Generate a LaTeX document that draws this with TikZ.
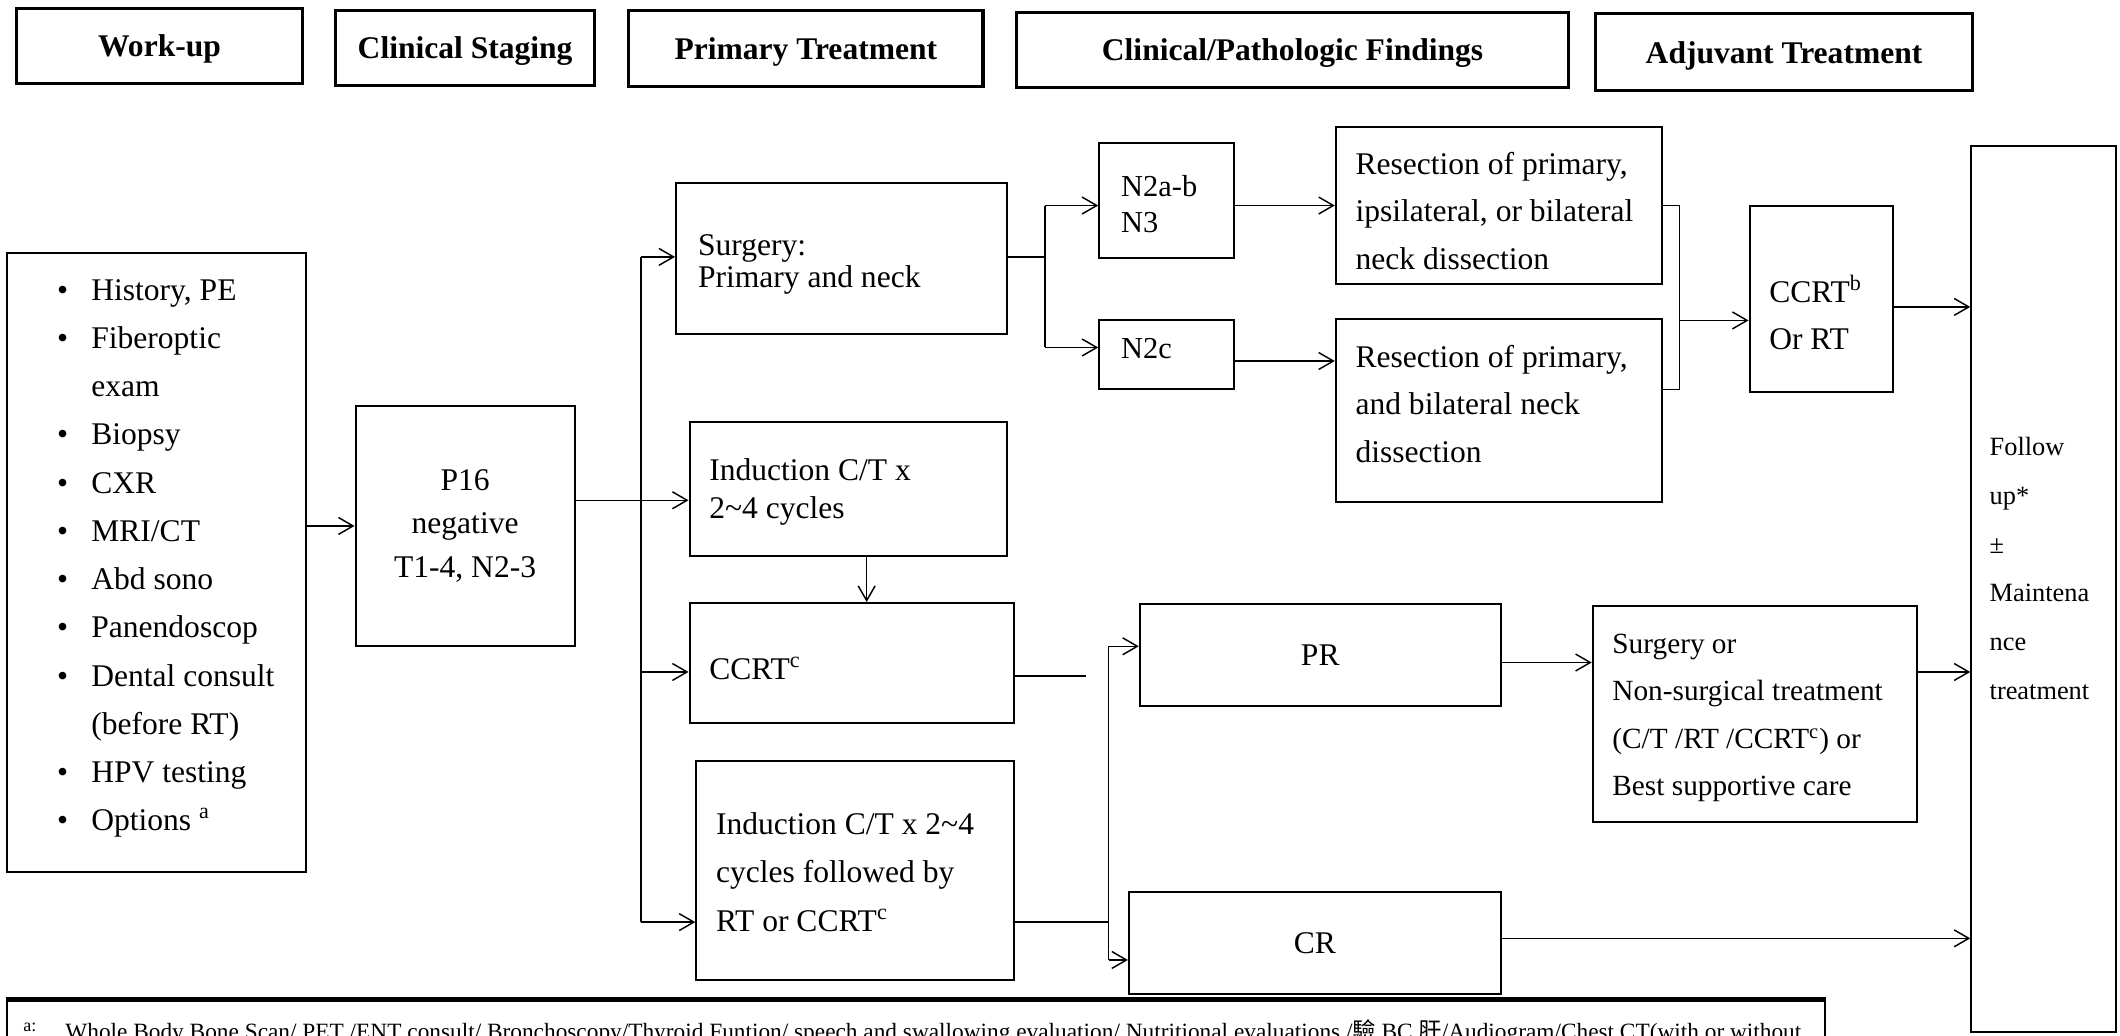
\documentclass[tikz,border=0pt]{standalone}
\usepackage{fontspec}
\setmainfont{Liberation Serif}
\newfontfamily\cjk{Noto Sans CJK TC}
\usetikzlibrary{arrows.meta}
\newcommand\boxnode[6][]{\node[box,#1,minimum width={(#4-#2)*0.6pt},minimum height={(#5-#3)*0.6pt}] (#6) at ({(#2+#4)/2},{(#3+#5)/2})}
\newcommand\bul{\makebox[16.8pt][l]{\hspace{1.6pt}\textbullet}}
\begin{document}
\begin{tikzpicture}[x=0.6pt,y=-0.6pt,
 box/.style={draw, line width=0.9pt, inner sep=0pt},
 hdr/.style={line width=1.4pt, text depth=0pt, font=\fontsize{14}{16}\selectfont\bfseries},
 ctext/.style={align=center, font=\fontsize{14}{19.5}\selectfont},
 txt/.style={align=left, anchor=west, inner sep=0pt, font=\fontsize{14}{21}\selectfont},
 arr/.style={-{Straight Barb[length=6.5pt,width=7.5pt]}, line width=0.65pt},
 ln/.style={line width=0.65pt}]
\useasboundingbox (0,0) rectangle (1568,766);
\fill[white] (0,0) rectangle (1568,766);
% headers
\boxnode[hdr]{12}{6}{224}{62}{wuh}{Work-up};
\boxnode[hdr]{248}{8}{440}{63}{csh}{Clinical Staging};
\boxnode[hdr]{465}{8}{727}{64}{pth}{Primary Treatment};
\boxnode[hdr]{752}{9}{1160}{65}{cph}{Clinical/Pathologic Findings};
\boxnode[hdr]{1180}{10}{1459}{67}{ath}{Adjuvant Treatment};
% work-up
\boxnode{5}{187}{226}{645}{wu}{};
\node[txt, font=\fontsize{14}{21.4}\selectfont] (wut) at ([xshift=21pt,yshift=1.8pt]wu.west)
 {\bul History, PE\\ \bul Fiberoptic\\ \hspace*{16.8pt}exam\\ \bul Biopsy\\ \bul CXR\\ \bul MRI/CT\\ \bul Abd sono\\ \bul Panendoscop\\ \bul Dental consult\\ \hspace*{16.8pt}(before RT)\\ \bul HPV testing\\ \bul Options \textsuperscript{a}};
% staging
\boxnode[ctext]{263}{300}{425}{478}{p16}{P16\\negative\\T1-4, N2-3};
% primary treatment
\boxnode{500}{135}{745}{247}{surg}{};
\node[txt, font=\fontsize{14}{14.4}\selectfont] (surgt) at ([xshift=10pt,yshift=-2.8pt]surg.west) {Surgery:\\Primary and neck};
\boxnode{510}{312}{745}{411}{ind1}{};
\node[txt, font=\fontsize{14}{16.8}\selectfont] (ind1t) at ([xshift=9pt,yshift=-1.6pt]ind1.west) {Induction C/T x\\2\textasciitilde4 cycles};
\boxnode{510}{446}{750}{535}{ccrt}{};
\node[txt] (ccrtt) at ([xshift=9pt,yshift=-2.4pt]ccrt.west) {CCRT\textsuperscript{c}};
\boxnode{515}{563}{750}{725}{ind2}{};
\node[txt, font=\fontsize{14}{21.6}\selectfont] (ind2t) at ([xshift=9pt,yshift=-0.6pt]ind2.west) {Induction C/T x 2\textasciitilde4\\cycles followed by\\RT or CCRT\textsuperscript{c}};
% findings
\boxnode{813}{106}{913}{191}{n2ab}{};
\node[txt, font=\fontsize{13.5}{15.6}\selectfont] (n2abt) at ([xshift=10pt,yshift=-1.5pt]n2ab.west) {N2a-b\\N3};
\boxnode{813}{237}{913}{288}{n2c}{};
\node[txt, font=\fontsize{13.5}{15.6}\selectfont] (n2ct) at ([xshift=10pt,yshift=2.7pt]n2c.west) {N2c};
\boxnode{988}{94}{1229}{210}{res1}{};
\node[txt] (res1t) at ([xshift=9pt,yshift=-2.4pt]res1.west) {Resection of primary,\\ipsilateral, or bilateral\\neck dissection};
\boxnode{988}{236}{1229}{371}{res2}{};
\node[txt] (res2t) at ([xshift=9pt,yshift=2.8pt]res2.west) {Resection of primary,\\and bilateral neck\\dissection};
\boxnode[ctext]{843}{447}{1110}{522}{pr}{PR};
\boxnode[ctext]{835}{660}{1110}{735}{cr}{CR};
% adjuvant
\boxnode{1294}{152}{1400}{290}{ccrtb}{};
\node[txt] (ccrtbt) at ([xshift=9pt,yshift=-6pt]ccrtb.west) {CCRT\textsuperscript{b}\\Or RT};
\boxnode{1178}{448}{1418}{608}{sor}{};
\node[txt, font=\fontsize{13}{21}\selectfont] (sort) at ([xshift=9pt,yshift=-1.8pt]sor.west) {Surgery or\\Non-surgical treatment\\(C/T /RT /CCRT\textsuperscript{c}) or\\Best supportive care};
% follow up
\boxnode{1458}{108}{1565}{763}{fu}{};
\node[txt, font=\fontsize{11.7}{21.6}\selectfont] (fut) at ([xshift=8.4pt,yshift=9pt]fu.west) {Follow\\up*\\±\\Maintena\\nce\\treatment};
% connectors
\draw[arr] (wu.east |- p16) -- (p16.west);
\draw[arr] (p16.east |- 0,370) -- (ind1.west |- 0,370);
\coordinate (tr1) at (474,190);
\coordinate (tr2) at (474,682);
\coordinate (tr3) at (474,497);
\draw[ln] (tr1) -- (tr2);
\draw[arr] (tr1) -- (surg.west |- tr1);
\draw[arr] (tr3) -- (ccrt.west |- tr3);
\draw[arr] (tr2) -- (ind2.west |- tr2);
\coordinate (dn) at (641,0);
\draw[arr] (ind1.south -| dn) -- (ccrt.north -| dn);
\coordinate (s1) at (773,190);
\coordinate (s2) at (773,152);
\coordinate (s3) at (773,257);
\draw[ln] (surg.east |- s1) -- (s1);
\draw[ln] (s2) -- (s3);
\draw[arr] (s2) -- (n2ab.west |- s2);
\draw[arr] (s3) -- (n2c.west |- s3);
\draw[arr] (n2ab.east |- 0,152) -- (res1.west |- 0,152);
\draw[arr] (n2c.east |- 0,267) -- (res2.west |- 0,267);
\coordinate (b1) at (1242,152);
\coordinate (b2) at (1242,288);
\coordinate (b3) at (1242,237);
\draw[ln] (res1.east |- b1) -- (b1) -- (b2) -- (res2.east |- b2);
\draw[arr] (b3) -- (ccrtb.west |- b3);
\draw[arr] (ccrtb.east |- 0,227) -- (fu.west |- 0,227);
\coordinate (c1) at (803,500);
\draw[ln] (ccrt.east |- c1) -- (c1);
\coordinate (v1) at (820,478);
\coordinate (v2) at (820,710);
\coordinate (v3) at (820,682);
\draw[ln] (ind2.east |- v3) -- (v3);
\draw[ln] (v1) -- (v2);
\draw[arr] (v1) -- (pr.west |- v1);
\draw[arr] (v2) -- (cr.west |- v2);
\draw[arr] (pr.east |- 0,490) -- (sor.west |- 0,490);
\draw[arr] (sor.east |- 0,497) -- (fu.west |- 0,497);
\draw[arr] (cr.east |- 0,694) -- (fu.west |- 0,694);
% footnote
\boxnode{5}{740}{1350}{820}{fn}{};
\draw[line width=2pt] (fn.north west) -- (fn.north east);
\node[anchor=base west, inner sep=0pt, font=\fontsize{8}{9}\selectfont] (fna) at (17,763) {a:};
\node[anchor=base west, inner sep=0pt, font=\fontsize{10.35}{12}\selectfont] (fnt) at (48,768.5) {Whole Body Bone Scan/ PET /ENT consult/ Bronchoscopy/Thyroid Funtion/ speech and swallowing evaluation/ Nutritional evaluations /{\cjk 驗} BC {\cjk 肝}/Audiogram/Chest CT(with or without};
\end{tikzpicture}
\end{document}
